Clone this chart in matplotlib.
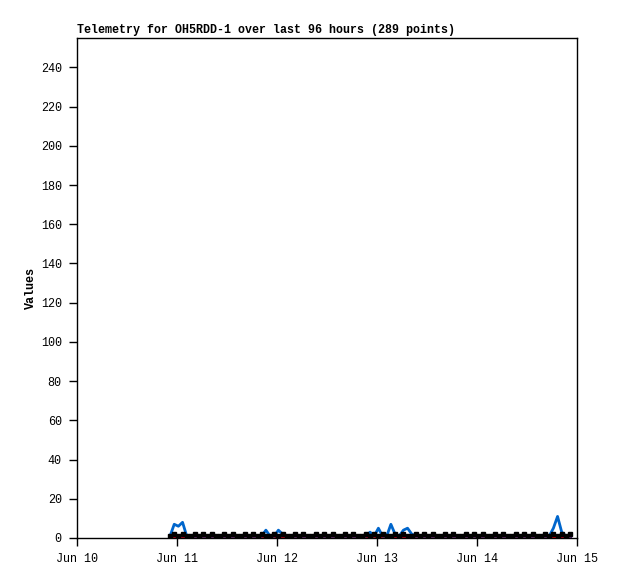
import matplotlib
matplotlib.use("Agg")
import matplotlib.pyplot as plt
import matplotlib.dates as mdates
import numpy as np
from datetime import datetime, timedelta

# hourly samples starting Jun 10 22:20
start = datetime(2024, 6, 10, 22, 20)
blue_vals = [1, 7, 6, 8, 1, 1, 1, 1, 1, 1,
             1, 1, 1, 1, 1, 1, 1, 1, 1, 1,
             1, 1, 1, 4, 1, 1, 4, 2, 1, 1,
             1, 1, 1, 1, 1, 1, 1, 1, 1, 1,
             1, 1, 1, 1, 1, 1, 1, 1, 3, 1,
             5, 1, 1, 7, 2, 1, 4, 5, 2, 1,
             1, 1, 1, 1, 1, 1, 1, 1, 1, 1,
             1, 1, 1, 1, 1, 1, 1, 1, 1, 1,
             1, 1, 1, 1, 1, 1, 1, 1, 1, 1,
             1, 1, 5, 11, 3, 1, 1]
black_vals = [1, 1.8, 1, 1.8, 1, 1, 1.8, 1, 1.8, 1,
              1.8, 1, 1, 1.8, 1, 1.8, 1, 1, 1.8, 1,
              1.8, 1, 1.8, 1, 1, 1.8, 1, 1.8, 1, 1,
              1.8, 1, 1.8, 1, 1, 1.8, 1, 1.8, 1, 1.8,
              1, 1, 1.8, 1, 1.8, 1, 1, 1.8, 1, 1.8,
              1, 1.8, 1, 1, 1.8, 1, 1.8, 1, 1, 1.8,
              1, 1.8, 1, 1.8, 1, 1, 1.8, 1, 1.8, 1,
              1, 1.8, 1, 1.8, 1, 1.8, 1, 1, 1.8, 1,
              1.8, 1, 1, 1.8, 1, 1.8, 1, 1.8, 1, 1,
              1.8, 1, 1.8, 1, 1.8, 1, 1.8]
red_vals = [0] * 50 + [1] + [0] * 42 + [1] + [0] * 3
purple_vals = [0] * 97

times = [start + timedelta(hours=i) for i in range(len(blue_vals))]

yticks = list(range(0, 241, 20))
xticks = [datetime(2024, 6, d) for d in range(10, 16)]
xticklabels = ["Jun 10", "Jun 11", "Jun 12", "Jun 13", "Jun 14", "Jun 15"]

fig = plt.figure(figsize=(6.18, 5.79), dpi=100)
ax = fig.add_axes([77/618, 41/579, 500/618, 500/579])
mono = "Liberation Mono"

ax.plot(times, purple_vals, color="#800080", lw=2.2, zorder=2)
ax.plot(times, red_vals, color="#ff0000", lw=1.0, zorder=2)
ax.plot(times, blue_vals, color="#0066cc", lw=2.0, zorder=3)
ax.plot(times, black_vals, color="black", lw=1.8, marker="s", ms=2.4, zorder=4)

ax.set_xlim(datetime(2024, 6, 10), datetime(2024, 6, 15))
ax.set_ylim(0, 255)
ax.set_yticks(yticks)
ax.set_yticklabels([str(v) for v in yticks], fontfamily=mono, fontsize=8.5)
ax.set_xticks(xticks)
ax.set_xticklabels(xticklabels, fontfamily=mono, fontsize=8.5)
ax.tick_params(direction="out", length=6, width=1, pad=5)
for s in ax.spines.values():
    s.set_linewidth(1)
ax.set_ylabel("Values", fontfamily=mono, fontsize=8.5, fontweight="bold")
ax.yaxis.set_label_coords(-0.08, 0.5)
ax.text(0, 1.004, "Telemetry for OH5RDD-1 over last 96 hours (289 points)",
        transform=ax.transAxes, ha="left", va="bottom",
        fontfamily=mono, fontsize=8.4, fontweight="bold")

fig.savefig("out.png", dpi=100)
